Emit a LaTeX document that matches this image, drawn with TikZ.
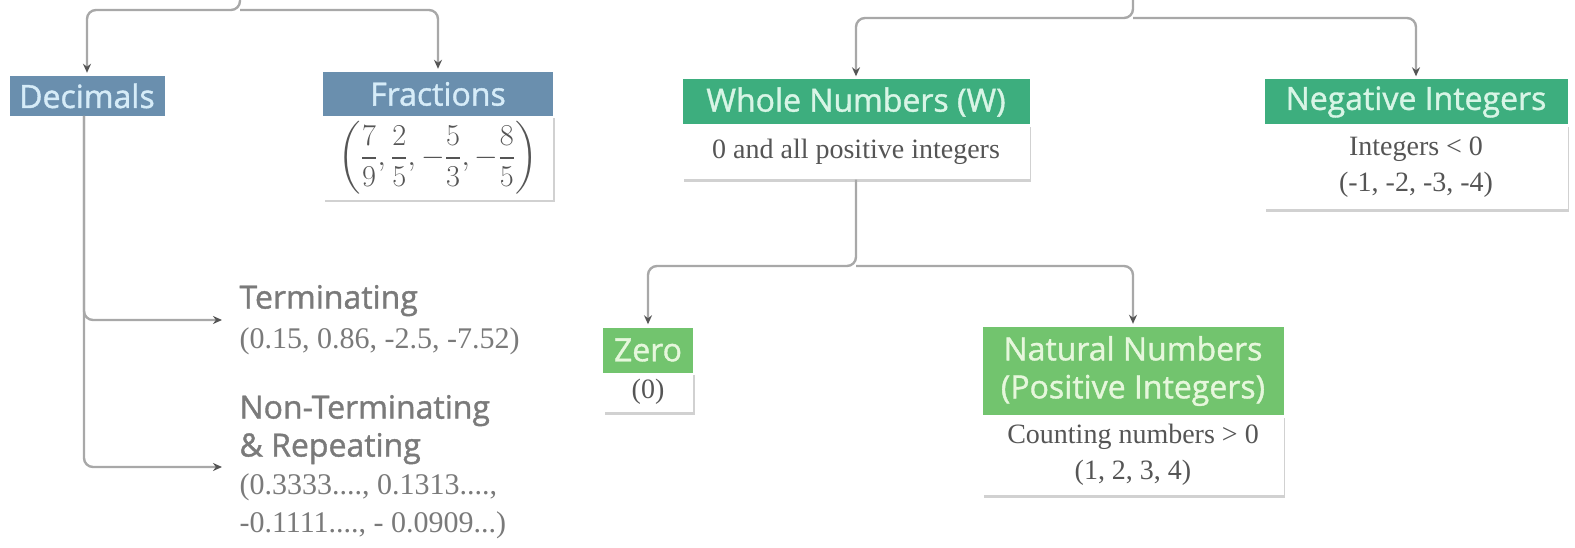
\documentclass[tikz,border=0pt]{standalone}
\usepackage{amsmath}
\usepackage{fontspec}
\setmainfont{Liberation Serif}
\newfontfamily\hdrfont{Open Sans}[FakeBold=1.2]
\usetikzlibrary{arrows.meta,shadows,positioning}
\definecolor{hblue}{HTML}{6A8FAE}
\definecolor{hgreen}{HTML}{3DAE7E}
\definecolor{hlight}{HTML}{72C46E}
\definecolor{linec}{HTML}{A8A8A8}
\definecolor{tipc}{HTML}{555555}
\definecolor{bodyc}{HTML}{555555}
\definecolor{sidec}{HTML}{7A7A7A}
\definecolor{tblue}{HTML}{D6ECF8}
\definecolor{tgreen}{HTML}{D8F5E6}
\definecolor{tlight}{HTML}{E6F7DC}
\newcommand{\sidehd}{\hdrfont\fontsize{32}{38}\selectfont\color{sidec}}
\begin{document}
\begin{tikzpicture}[x=1pt,y=-1pt,
  hdr/.style={inner sep=0pt,align=center,font=\hdrfont\fontsize{32}{38}\selectfont},
  hdrblue/.style={hdr,fill=hblue,text=tblue},
  hdrgreen/.style={hdr,fill=hgreen,text=tgreen},
  hdrlight/.style={hdr,fill=hlight,text=tlight},
  bodybox/.style={inner sep=0pt,align=center,fill=white,text=bodyc,
    font=\fontsize{28}{36}\selectfont,
    drop shadow={shadow xshift=1.5pt,shadow yshift=-2.5pt,opacity=0.18,fill=black}},
  conn/.style={draw=linec,line width=2.4pt,rounded corners=9pt,
    -{Stealth[length=9pt,width=8pt,color=tipc]},shorten >=3pt},
  side/.style={anchor=west,align=left,text=sidec,font=\fontsize{30}{38}\selectfont}
]
\useasboundingbox (0,0) rectangle (1575,548);

% Left part
\node[hdrblue,minimum width=155pt,minimum height=40pt] (dec) at (87,96) {Decimals};
\node[bodybox,minimum width=230pt,minimum height=84pt] (fracb) at (438,158)
  {\scalebox{1.22}{$\left(\dfrac{7}{9},\dfrac{2}{5},-\dfrac{5}{3},-\dfrac{8}{5}\right)$}};
\node[hdrblue,minimum width=230pt,minimum height=44pt] (frac) at (438,94) {Fractions};

\coordinate (tl) at (240,0);
\coordinate (tlj) at (240,10);
\draw[conn] (tl) -- (tlj) -| (dec.north);
\draw[conn] (tlj) -| (frac.north);

\node[side] (term) at (236,320) {{\sidehd Terminating}\\[2pt](0.15, 0.86, -2.5, -7.52)};
\node[side] (nonterm) at (236,467) {{\sidehd Non-Terminating}\\{\sidehd \& Repeating}\\(0.3333...., 0.1313....,\\-0.1111...., - 0.0909...)};

\coordinate (decs) at (84,116);
\draw[conn,shorten >=14pt] (decs) |- (term.west);
\draw[conn,shorten >=14pt] (decs) |- (nonterm.west);

% Right part
\node[bodybox,minimum width=347pt,minimum height=55pt] (wholeb) at (856,152) {0 and all positive integers};
\node[hdrgreen,minimum width=347pt,minimum height=45pt] (whole) at (856,102) {Whole Numbers (W)};
\node[bodybox,minimum width=303pt,minimum height=85pt] (negb) at (1416,167) {Integers \textless{} 0\\(-1, -2, -3, -4)};
\node[hdrgreen,minimum width=303pt,minimum height=45pt] (neg) at (1416,102) {Negative Integers};

\coordinate (tr) at (1133,0);
\coordinate (trj) at (1133,18);
\draw[conn] (tr) -- (trj) -| (whole.north);
\draw[conn] (trj) -| (neg.north);

\node[bodybox,minimum width=90pt,minimum height=40pt] (zerob) at (648,392) {(0)};
\node[hdrlight,minimum width=90pt,minimum height=45pt] (zero) at (648,350) {Zero};
\node[bodybox,minimum width=301pt,minimum height=80pt] (natb) at (1133,455) {Counting numbers \textgreater{} 0\\(1, 2, 3, 4)};
\node[hdrlight,minimum width=301pt,minimum height=88pt] (nat) at (1133,371) {Natural Numbers\\(Positive Integers)};

\coordinate (wj) at (856,266);
\draw[conn] (wholeb.south) -- (wj) -| (zero.north);
\draw[conn] (wj) -| (nat.north);
\end{tikzpicture}
\end{document}
